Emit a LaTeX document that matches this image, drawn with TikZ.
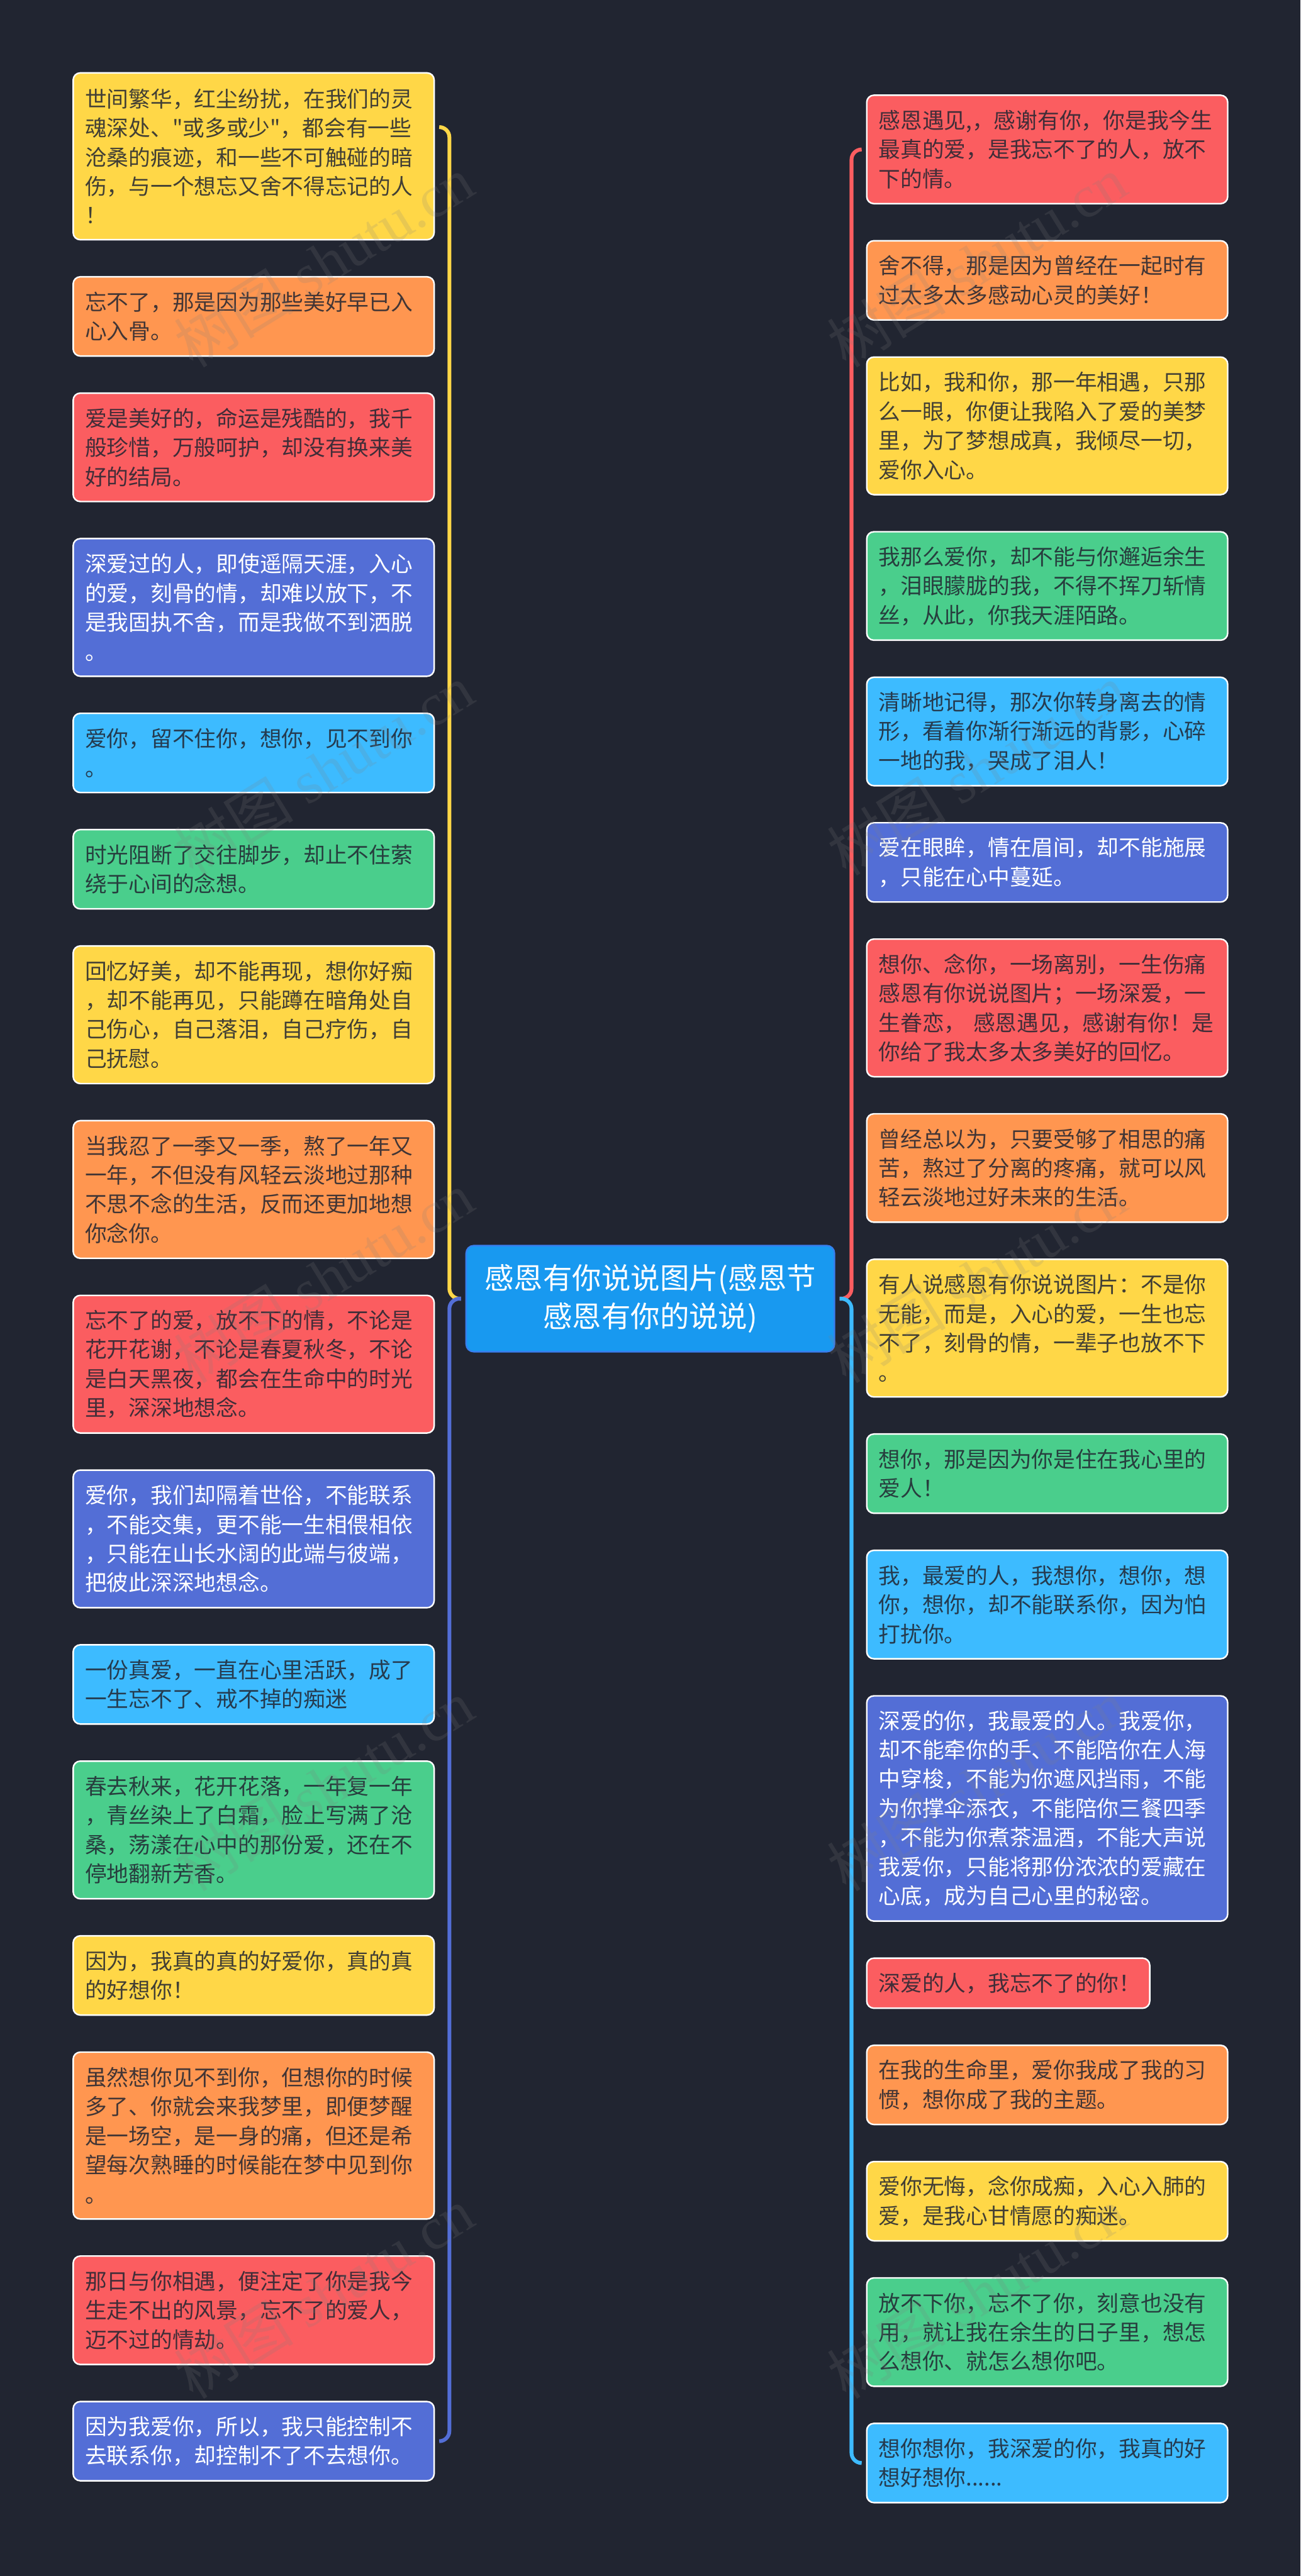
\documentclass[tikz,border=0pt]{standalone}
\usepackage{fontspec}
\usetikzlibrary{positioning}
\newfontfamily\cjkfont{Noto Sans CJK SC}
\newfontfamily\markfont{Liberation Serif}
\definecolor{cbg}{HTML}{212531}
\definecolor{cdark}{HTML}{212531}
\definecolor{cyellow}{HTML}{FFD747}
\definecolor{corange}{HTML}{FF9650}
\definecolor{cred}{HTML}{FB5D60}
\definecolor{cindigo}{HTML}{536ED6}
\definecolor{csky}{HTML}{3DBBFF}
\definecolor{cgreen}{HTML}{4ACE8C}
\definecolor{croot}{HTML}{1899F0}
\definecolor{crootline}{HTML}{377FEE}
\tikzset{
    leaf/.style={draw=white,fill=#1,line width=1.2pt,rounded corners=5.6pt,outer sep=0pt,inner xsep=9.4pt,inner ysep=0pt,text width=265.4pt,align=left,text=cdark,text opacity=.85,font=\cjkfont\fontsize{17.2}{23}\selectfont},
    leafw/.style={leaf=#1,text=white,text opacity=1},
    lines/.style={minimum height={(16.4+23*#1)*1pt}},
    next/.style={below=29.2pt of #1.south west,anchor=north west},
    root/.style={draw=crootline,fill=croot,line width=1.2pt,rounded corners=6pt,outer sep=0pt,minimum width=290pt,minimum height=83.6pt,align=center,text=white,font=\cjkfont\fontsize{23}{30}\selectfont},
    link/.style={line width=3pt,rounded corners=8pt},
    wmark/.style={rotate=31.7,text=gray,text opacity=.18,inner sep=0pt,font=\fontsize{47}{47}\selectfont}
}
\begin{document}
\begin{tikzpicture}
    \useasboundingbox (0,0) rectangle (1024pt,-2028.8pt);
    \fill [cbg] (0,0) rectangle (1024pt,-2028.8pt);

    \node [root] (n0) at (512pt,-1022.8pt) {感恩有你说说图片(感恩节\\感恩有你的说说)};

    \node [leaf=cyellow,lines=5,anchor=north west] (l1) at (57.6pt,-57.4pt) {世间繁华，红尘纷扰，在我们的灵\\魂深处、"或多或少"，都会有一些\\沧桑的痕迹，和一些不可触碰的暗\\伤，与一个想忘又舍不得忘记的人\\！};
    \node [leaf=corange,lines=2,next=l1] (l2) {忘不了，那是因为那些美好早已入\\心入骨。};
    \node [leaf=cred,lines=3,next=l2] (l3) {爱是美好的，命运是残酷的，我千\\般珍惜，万般呵护，却没有换来美\\好的结局。};
    \node [leafw=cindigo,lines=4,next=l3] (l4) {深爱过的人，即使遥隔天涯，入心\\的爱，刻骨的情，却难以放下，不\\是我固执不舍，而是我做不到洒脱\\。};
    \node [leaf=csky,lines=2,next=l4] (l5) {爱你，留不住你，想你，见不到你\\。};
    \node [leaf=cgreen,lines=2,next=l5] (l6) {时光阻断了交往脚步，却止不住萦\\绕于心间的念想。};
    \node [leaf=cyellow,lines=4,next=l6] (l7) {回忆好美，却不能再现，想你好痴\\，却不能再见，只能蹲在暗角处自\\己伤心，自己落泪，自己疗伤，自\\己抚慰。};
    \node [leaf=corange,lines=4,next=l7] (l8) {当我忍了一季又一季，熬了一年又\\一年，不但没有风轻云淡地过那种\\不思不念的生活，反而还更加地想\\你念你。};
    \node [leaf=cred,lines=4,next=l8] (l9) {忘不了的爱，放不下的情，不论是\\花开花谢，不论是春夏秋冬，不论\\是白天黑夜，都会在生命中的时光\\里，深深地想念。};
    \node [leafw=cindigo,lines=4,next=l9] (l10) {爱你，我们却隔着世俗，不能联系\\，不能交集，更不能一生相偎相依\\，只能在山长水阔的此端与彼端，\\把彼此深深地想念。};
    \node [leaf=csky,lines=2,next=l10] (l11) {一份真爱，一直在心里活跃，成了\\一生忘不了、戒不掉的痴迷};
    \node [leaf=cgreen,lines=4,next=l11] (l12) {春去秋来，花开花落，一年复一年\\，青丝染上了白霜，脸上写满了沧\\桑，荡漾在心中的那份爱，还在不\\停地翻新芳香。};
    \node [leaf=cyellow,lines=2,next=l12] (l13) {因为，我真的真的好爱你，真的真\\的好想你！};
    \node [leaf=corange,lines=5,next=l13] (l14) {虽然想你见不到你，但想你的时候\\多了、你就会来我梦里，即便梦醒\\是一场空，是一身的痛，但还是希\\望每次熟睡的时候能在梦中见到你\\。};
    \node [leaf=cred,lines=3,next=l14] (l15) {那日与你相遇，便注定了你是我今\\生走不出的风景，忘不了的爱人，\\迈不过的情劫。};
    \node [leafw=cindigo,lines=2,next=l15] (l16) {因为我爱你，所以，我只能控制不\\去联系你，却控制不了不去想你。};

    \node [leaf=cred,lines=3,anchor=north west] (r1) at (682.4pt,-75pt) {感恩遇见,，感谢有你，你是我今生\\最真的爱，是我忘不了的人，放不\\下的情。};
    \node [leaf=corange,lines=2,next=r1] (r2) {舍不得，那是因为曾经在一起时有\\过太多太多感动心灵的美好！};
    \node [leaf=cyellow,lines=4,next=r2] (r3) {比如，我和你，那一年相遇，只那\\么一眼，你便让我陷入了爱的美梦\\里，为了梦想成真，我倾尽一切，\\爱你入心。};
    \node [leaf=cgreen,lines=3,next=r3] (r4) {我那么爱你，却不能与你邂逅余生\\，泪眼朦胧的我，不得不挥刀斩情\\丝，从此，你我天涯陌路。};
    \node [leaf=csky,lines=3,next=r4] (r5) {清晰地记得，那次你转身离去的情\\形，看着你渐行渐远的背影，心碎\\一地的我，哭成了泪人！};
    \node [leafw=cindigo,lines=2,next=r5] (r6) {爱在眼眸，情在眉间，却不能施展\\，只能在心中蔓延。};
    \node [leaf=cred,lines=4,next=r6] (r7) {想你、念你，一场离别，一生伤痛\\感恩有你说说图片；一场深爱，一\\生眷恋， 感恩遇见，感谢有你！是\\你给了我太多太多美好的回忆。};
    \node [leaf=corange,lines=3,next=r7] (r8) {曾经总以为，只要受够了相思的痛\\苦，熬过了分离的疼痛，就可以风\\轻云淡地过好未来的生活。};
    \node [leaf=cyellow,lines=4,next=r8] (r9) {有人说感恩有你说说图片：不是你\\无能，而是，入心的爱，一生也忘\\不了，刻骨的情，一辈子也放不下\\。};
    \node [leaf=cgreen,lines=2,next=r9] (r10) {想你，那是因为你是住在我心里的\\爱人！};
    \node [leaf=csky,lines=3,next=r10] (r11) {我，最爱的人，我想你，想你，想\\你，想你，却不能联系你，因为怕\\打扰你。};
    \node [leafw=cindigo,lines=7,next=r11] (r12) {深爱的你，我最爱的人。我爱你，\\却不能牵你的手、不能陪你在人海\\中穿梭，不能为你遮风挡雨，不能\\为你撑伞添衣，不能陪你三餐四季\\，不能为你煮茶温酒，不能大声说\\我爱你，只能将那份浓浓的爱藏在\\心底，成为自己心里的秘密。};
    \node [leaf=cred,lines=1,text width=204pt,next=r12] (r13) {深爱的人，我忘不了的你！};
    \node [leaf=corange,lines=2,next=r13] (r14) {在我的生命里，爱你我成了我的习\\惯，想你成了我的主题。};
    \node [leaf=cyellow,lines=2,next=r14] (r15) {爱你无悔，念你成痴，入心入肺的\\爱，是我心甘情愿的痴迷。};
    \node [leaf=cgreen,lines=3,next=r15] (r16) {放不下你，忘不了你，刻意也没有\\用，就让我在余生的日子里，想怎\\么想你、就怎么想你吧。};
    \node [leaf=csky,lines=2,next=r16] (r17) {想你想你，我深爱的你，我真的好\\想好想你......};

    \coordinate (ltrunk) at ([xshift=12pt]l1.east);
    \coordinate (rtrunk) at ([xshift=-12pt]r1.west);
    \coordinate (lstart) at ([xshift=-4pt]n0.west);
    \coordinate (rstart) at ([xshift=4pt]n0.east);
    \coordinate (ltop) at ([xshift=4pt,yshift=23pt]l1.east);
    \coordinate (lbot) at ([xshift=4pt]l16.east);
    \coordinate (rtop) at ([xshift=-4pt]r1.west);
    \coordinate (rbot) at ([xshift=-4pt]r17.west);

    \draw [link,cyellow] (lstart) -| (ltrunk |- ltop) -- (ltop);
    \draw [link,cindigo] (lstart) -| (ltrunk |- lbot) -- (lbot);
    \draw [link,cred] (rstart) -| (rtrunk |- rtop) -- (rtop);
    \draw [link,csky] (rstart) -| (rtrunk |- rbot) -- (rbot);

    \node [wmark] (w1) at (255pt,-206pt) {{\cjkfont 树图}{\markfont\ shutu.cn}};
    \node [wmark] (w2) at (769pt,-206pt) {{\cjkfont 树图}{\markfont\ shutu.cn}};
    \node [wmark] (w3) at (255pt,-606pt) {{\cjkfont 树图}{\markfont\ shutu.cn}};
    \node [wmark] (w4) at (769pt,-606pt) {{\cjkfont 树图}{\markfont\ shutu.cn}};
    \node [wmark] (w5) at (255pt,-1006pt) {{\cjkfont 树图}{\markfont\ shutu.cn}};
    \node [wmark] (w6) at (769pt,-1006pt) {{\cjkfont 树图}{\markfont\ shutu.cn}};
    \node [wmark] (w7) at (255pt,-1406pt) {{\cjkfont 树图}{\markfont\ shutu.cn}};
    \node [wmark] (w8) at (769pt,-1406pt) {{\cjkfont 树图}{\markfont\ shutu.cn}};
    \node [wmark] (w9) at (255pt,-1806pt) {{\cjkfont 树图}{\markfont\ shutu.cn}};
    \node [wmark] (w10) at (769pt,-1806pt) {{\cjkfont 树图}{\markfont\ shutu.cn}};
\end{tikzpicture}
\end{document}
